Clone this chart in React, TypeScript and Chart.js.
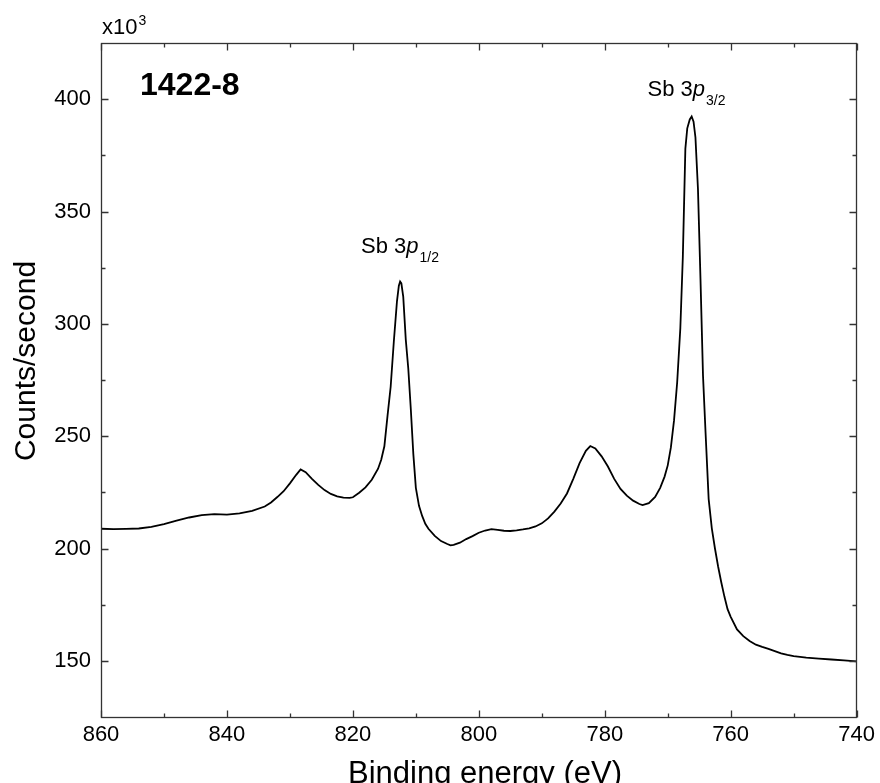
import React, { useEffect, useRef } from "react";
import { Chart, registerables } from "chart.js";

Chart.register(...registerables);

// Binding energy (eV)
const energy = [
  860, 858, 856, 854, 852, 850, 848, 846, 844, 842, 840, 838, 836, 834, 833, 832, 831, 830, 829, 828.3,
  827.5, 826.5, 825.5, 824.5, 823.5, 822.5, 821.5, 820.5, 820, 819, 818, 817, 816, 815.5, 815, 814.5,
  814, 813.5, 813, 812.7, 812.5, 812.3, 812, 811.6, 811.2, 810.8, 810.4, 810, 809.5, 809, 808.5, 808,
  807, 806, 805, 804.5, 804, 803, 802, 801, 800, 799, 798, 797, 796, 795, 794, 793, 792, 791, 790,
  789, 788, 787, 786, 785, 784, 783, 782.3, 781.5, 780.5, 779.5, 778.5, 777.5, 776.5, 775.5, 774.5,
  774, 773, 772, 771.2, 770.5, 770, 769.5, 769, 768.5, 768, 767.6, 767.2, 766.9, 766.5, 766.2, 765.9,
  765.6, 765.2, 764.8, 764.4, 764, 763.5, 763, 762.5, 762, 761.5, 761, 760.5, 760, 759, 758, 757,
  756, 755, 754, 753, 752, 751, 750, 748, 746, 744, 742, 740,
];

// Counts/second (x10^3)
const counts = [
  208.8, 208.6, 208.7, 208.9, 209.6, 210.9, 212.4, 213.8, 214.9, 215.3, 215.1, 215.6, 216.8, 218.7, 220.5, 222.9, 225.5, 229.0, 232.8, 235.2,
  234.0, 231.0, 228.3, 226.0, 224.3, 223.2, 222.6, 222.5, 222.8, 224.8, 227.2, 230.6, 235.5, 239.5, 245.5, 259,
  272, 292, 310, 317, 318.8, 318, 312, 293, 280, 262, 242, 227, 219, 214.5, 211, 208.8,
  205.6, 203.3, 202, 201.4, 201.6, 202.6, 204.2, 205.5, 207, 208, 208.6, 208.3, 207.9, 207.8, 208.1, 208.5, 209, 209.8, 211.2,
  213.4, 216.4, 220, 224.5, 231, 238, 243.5, 245.6, 244.5, 241, 236.5, 231, 226.5, 223.5, 221.3, 219.8,
  219.3, 220.2, 223, 227, 232, 237, 245, 257, 274, 298, 330, 378, 387, 391, 392.3, 390,
  383, 360, 320, 277, 252, 222, 209, 200, 192, 185, 178.6, 173, 169.6, 164, 161, 158.8,
  157.2, 156.2, 155.3, 154.3, 153.3, 152.6, 152.1, 151.4, 151, 150.6, 150.2, 149.8,
];

const xTickValues = [860, 840, 820, 800, 780, 760, 740];
const xMinorTickValues = [850, 830, 810, 790, 770, 750];
const yTickValues = [150, 200, 250, 300, 350, 400];
const yMinorTickValues = [175, 225, 275, 325, 375];

const xTitle = "Binding energy (eV)";
const yTitle = "Counts/second";
const sampleName = "1422-8";
const multiplierBase = "x10";
const multiplierExp = "3";

const peakMain = ["Sb 3", "Sb 3"];
const peakItalic = ["p", "p"];
const peakSub = ["1/2", "3/2"];
const peakLabelEnergy = [812.6, 767.1];
const peakLabelValue = [331.6, 401.3];

const FONT = '"Liberation Sans", Arial, Helvetica, sans-serif';

const decorPlugin = {
  id: "decor",
  afterDraw(chart: any) {
    const { ctx, chartArea } = chart;
    const xs = chart.scales.x;
    const ys = chart.scales.y;
    const L = Math.round(chartArea.left) + 0.5;
    const R = Math.round(chartArea.right) - 0.5;
    const T = Math.round(chartArea.top) + 0.5;
    const B = Math.round(chartArea.bottom) + 0.5;
    ctx.save();
    ctx.strokeStyle = "#333333";
    ctx.lineWidth = 1.3;
    ctx.strokeRect(L, T, R - L, B - T);
    const major = 7;
    const minor = 4;
    ctx.beginPath();
    const xTick = (v: number, len: number) => {
      const px = Math.round(xs.getPixelForValue(v)) + 0.5;
      ctx.moveTo(px, B);
      ctx.lineTo(px, B - len);
      ctx.moveTo(px, T);
      ctx.lineTo(px, T + len);
    };
    const yTick = (v: number, len: number) => {
      const py = Math.round(ys.getPixelForValue(v)) + 0.5;
      ctx.moveTo(L, py);
      ctx.lineTo(L + len, py);
      ctx.moveTo(R, py);
      ctx.lineTo(R - len, py);
    };
    xTickValues.forEach((v) => xTick(v, major));
    xMinorTickValues.forEach((v) => xTick(v, minor));
    yTickValues.forEach((v) => yTick(v, major));
    yMinorTickValues.forEach((v) => yTick(v, minor));
    ctx.stroke();

    ctx.fillStyle = "#000000";
    // x title
    ctx.font = `31px ${FONT}`;
    ctx.textAlign = "center";
    ctx.textBaseline = "alphabetic";
    ctx.fillText(xTitle, 485, 783);
    // y title
    ctx.save();
    ctx.font = `30px ${FONT}`;
    ctx.translate(35, 361);
    ctx.rotate(-Math.PI / 2);
    ctx.fillText(yTitle, 0, 0);
    ctx.restore();

    // multiplier
    ctx.textAlign = "left";
    ctx.font = `22px ${FONT}`;
    ctx.fillText(multiplierBase, chartArea.left + 1, 34);
    const mw = ctx.measureText(multiplierBase).width;
    ctx.font = `14px ${FONT}`;
    ctx.fillText(multiplierExp, chartArea.left + 2 + mw, 25);

    // sample name
    ctx.font = `bold 32px ${FONT}`;
    ctx.fillText(sampleName, chartArea.left + 39, 95);

    // peak labels
    for (let i = 0; i < peakMain.length; i++) {
      const cx = xs.getPixelForValue(peakLabelEnergy[i]);
      const by = ys.getPixelForValue(peakLabelValue[i]);
      ctx.font = `22px ${FONT}`;
      const w1 = ctx.measureText(peakMain[i]).width;
      ctx.font = `italic 22px ${FONT}`;
      const w2 = ctx.measureText(peakItalic[i]).width;
      ctx.font = `14px ${FONT}`;
      const w3 = ctx.measureText(peakSub[i]).width;
      let x0 = cx - (w1 + w2 + w3) / 2;
      ctx.font = `22px ${FONT}`;
      ctx.fillText(peakMain[i], x0, by);
      x0 += w1;
      ctx.font = `italic 22px ${FONT}`;
      ctx.fillText(peakItalic[i], x0, by);
      x0 += w2 + 1;
      ctx.font = `14px ${FONT}`;
      ctx.fillText(peakSub[i], x0, by + 9);
    }
    ctx.restore();
  },
};

export default function App() {
  const ref = useRef<HTMLCanvasElement | null>(null);
  useEffect(() => {
    if (!ref.current) return;
    const points = energy.map((e, i) => ({ x: e, y: counts[i] }));
    const chart = new Chart(ref.current, {
      type: "line",
      data: {
        datasets: [
          {
            data: points,
            borderColor: "#000000",
            borderWidth: 1.8,
            pointRadius: 0,
            tension: 0,
            fill: false,
          },
        ],
      },
      options: {
        responsive: false,
        animation: false,
        devicePixelRatio: 1,
        layout: { padding: { top: 43, right: 22, left: 0, bottom: 0 } },
        plugins: { legend: { display: false }, tooltip: { enabled: false } },
        scales: {
          x: {
            type: "linear",
            min: 740,
            max: 860,
            reverse: true,
            grid: { display: false, drawTicks: false },
            border: { display: false },
            afterBuildTicks: (s: any) => {
              s.ticks = xTickValues.map((v) => ({ value: v }));
            },
            afterFit: (s: any) => {
              s.height = 66;
            },
            ticks: {
              color: "#000000",
              font: { family: FONT, size: 22 },
              padding: 5,
              maxRotation: 0,
              autoSkip: false,
            },
          },
          y: {
            type: "linear",
            min: 125,
            max: 425,
            grid: { display: false, drawTicks: false },
            border: { display: false },
            afterBuildTicks: (s: any) => {
              s.ticks = yTickValues.map((v) => ({ value: v }));
            },
            afterFit: (s: any) => {
              s.width = 101;
            },
            ticks: {
              color: "#000000",
              font: { family: FONT, size: 22 },
              padding: 10,
              autoSkip: false,
            },
          },
        },
      },
      plugins: [decorPlugin],
    });
    return () => chart.destroy();
  }, []);
  return (
    <div style={{ position: "absolute", left: 0, top: 0, width: 880, height: 783, background: "#ffffff" }}>
      <canvas ref={ref} width={880} height={783} style={{ display: "block" }} />
    </div>
  );
}
